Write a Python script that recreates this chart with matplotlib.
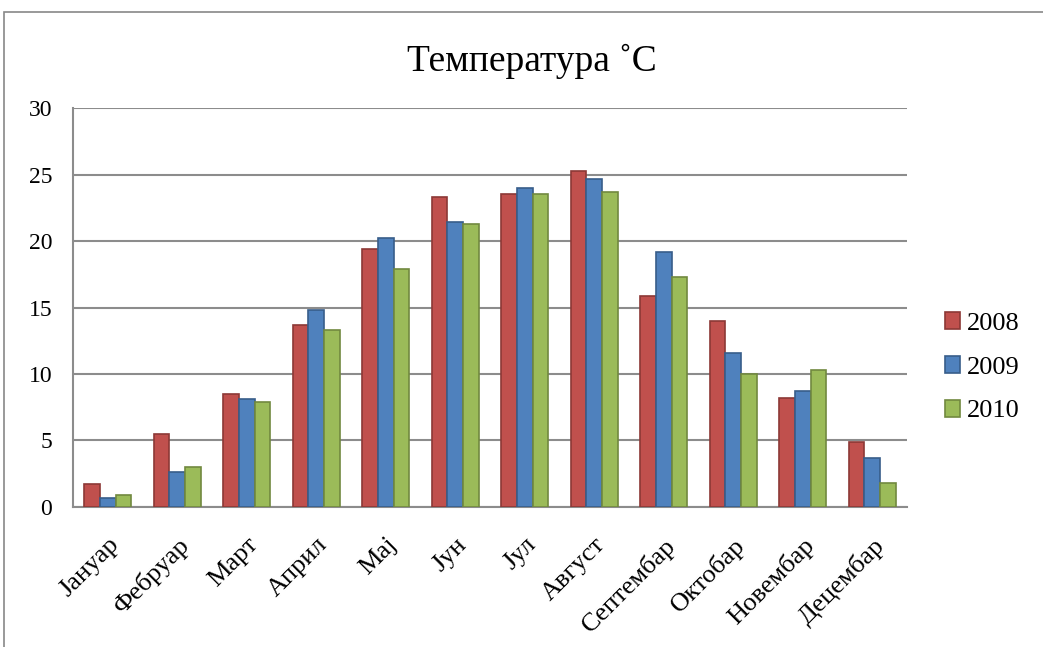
import numpy as np
import matplotlib.pyplot as plt
from matplotlib.patches import Rectangle

# Podaci ---------------------------------------------------------------
meseci = ['Јануар', 'Фебруар', 'Март', 'Април', 'Мај', 'Јун', 'Јул',
          'Август', 'Септембар', 'Октобар', 'Новембар', 'Децембар']
godine = ['2008', '2009', '2010']
t2008 = [1.7, 5.5, 8.5, 13.7, 19.4, 23.3, 23.5, 25.3, 15.9, 14.0, 8.2, 4.9]
t2009 = [0.7, 2.6, 8.1, 14.8, 20.2, 21.4, 24.0, 24.7, 19.2, 11.6, 8.7, 3.7]
t2010 = [0.9, 3.0, 7.9, 13.3, 17.9, 21.3, 23.5, 23.7, 17.3, 10.0, 10.3, 1.8]
y_ticks = [0, 5, 10, 15, 20, 25, 30]

plt.rcParams['font.family'] = ['Liberation Serif', 'DejaVu Serif']

fig = plt.figure(figsize=(10.43, 6.47), dpi=100)
ax = fig.add_axes([0.070, 0.2164, 0.7996, 0.6166])

# Okvir oko grafika
fig.patches.append(Rectangle((4 / 1043, -0.1), 1.2, 1 - 12 / 647 + 0.1,
                             transform=fig.transFigure, fill=False,
                             edgecolor='#888888', linewidth=1.2))

x = np.arange(len(meseci))
w = 0.225
boje = ['#C0504D', '#4F81BD', '#9BBB59']
ivice = ['#8C3836', '#385D8A', '#71893F']
for i, (vals, god) in enumerate(zip([t2008, t2009, t2010], godine)):
    ax.bar(x + (i - 1) * w, vals, w, color=boje[i], edgecolor=ivice[i],
           linewidth=1.2, label=god, zorder=3)

ax.set_xlim(-0.5, len(meseci) - 0.5)
ax.set_ylim(0, 30)
ax.set_yticks(y_ticks)
ax.yaxis.grid(True, color='#8c8c8c', linewidth=1.5, zorder=0)
ax.tick_params(axis='y', labelsize=17, length=0, pad=15)
ax.set_xticks(x)
ax.set_xticklabels(meseci, rotation=45, ha='right', rotation_mode='anchor', fontsize=19)
ax.tick_params(axis='x', length=0, pad=19)

for s in ['top', 'right']:
    ax.spines[s].set_visible(False)
for s in ['left', 'bottom']:
    ax.spines[s].set_color('#8c8c8c')
    ax.spines[s].set_linewidth(1.5)

fig.text(0.51, 0.905, 'Температура ˚C', ha='center', va='center', fontsize=27)

ax.legend(loc='center left', bbox_to_anchor=(1.045, 0.35), frameon=False,
          fontsize=19, handlelength=0.6, handleheight=0.6, handletextpad=0.25,
          labelspacing=0.8, borderpad=0, borderaxespad=0)

plt.savefig('out.png', dpi=100)
plt.close()
